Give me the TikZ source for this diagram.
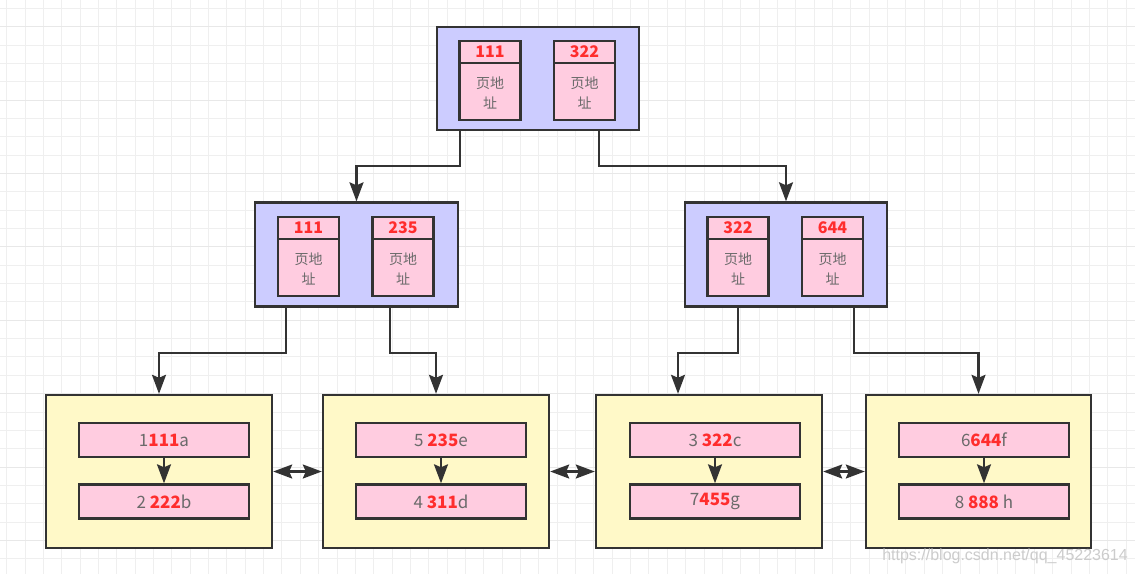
\documentclass[tikz,border=0pt]{standalone}
\usepackage{fontspec}
\setmainfont{Noto Sans CJK SC}
\newfontfamily\wmfont{Liberation Sans}
\usetikzlibrary{arrows.meta,calc}
\definecolor{boxblue}{HTML}{CCCCFF}
\definecolor{cellpink}{HTML}{FFCCE0}
\definecolor{leafyellow}{HTML}{FFF9C8}
\definecolor{edgegray}{HTML}{333333}
\definecolor{numred}{HTML}{FF2D2D}
\definecolor{txtgray}{HTML}{6A6A6A}
\definecolor{gridc}{HTML}{EFEFEF}
\definecolor{gridmaj}{HTML}{E8E8E8}
\newcommand\leaftxt[3]{#1\textbf{\textcolor{numred}{#2}}#3}
\newcommand\pcell[4]{%
  \node[cellbox] (#1) at (#2,#3+39.5) {};
  \node[headbox,anchor=north] (#1h) at (#1.north) {#4};
  \node[bodytxt] (#1t) at (#2,#3+52) {页地\\址};
}
\tikzset{
  outerbox/.style={draw=edgegray,fill=boxblue,line width=2.4pt,inner sep=0pt,minimum width=203pt,minimum height=104pt},
  cellbox/.style={draw=edgegray,fill=cellpink,line width=2.4pt,inner sep=0pt,minimum width=61pt,minimum height=79pt},
  headbox/.style={draw=edgegray,line width=2.4pt,inner sep=0pt,minimum width=61pt,minimum height=22pt,font=\fontsize{16}{16}\selectfont\bfseries,text=numred},
  bodytxt/.style={font=\fontsize{14}{20}\selectfont,text=txtgray,align=center,inner sep=0pt},
  leafbox/.style={draw=edgegray,fill=leafyellow,line width=2.4pt,inner sep=0pt,minimum width=226pt,minimum height=153pt},
  rowbox/.style={draw=edgegray,fill=cellpink,line width=2.4pt,inner sep=0pt,minimum width=170pt,minimum height=34pt,font=\fontsize{17}{17}\selectfont,text=txtgray},
  tipA/.tip={Stealth[length=19pt,width=14pt,inset=3pt]},
  conn/.style={draw=edgegray,line width=2.2pt,-tipA},
  dconn/.style={draw=edgegray,line width=2.2pt,tipA-tipA},
  gridline/.style={draw=gridc,line width=1pt},
  gridmajor/.style={draw=gridmaj,line width=1pt}
}
\begin{document}
\begin{tikzpicture}[x=1pt,y=-1pt]
\useasboundingbox (0,0) rectangle (1135,574);
\fill[white] (0,0) rectangle (1135,574);
% grid
\foreach \i in {0,...,61} {\draw[gridline] (6.7+\i*18.35,0) -- (6.7+\i*18.35,574);}
\foreach \i in {0,...,31} {\draw[gridline] (0,8.3+\i*18.35) -- (1135,8.3+\i*18.35);}
\foreach \i in {0,...,7} {\draw[gridmajor] (0,26.7+\i*73.4) -- (1135,26.7+\i*73.4);}
% root
\node[outerbox,minimum width=202pt,minimum height=103pt] (r) at (538,78.5) {};
\pcell{rA}{490}{41}{111}
\pcell{rB}{584.5}{41}{322}
% middle left
\node[outerbox] (mL) at (356.5,254.5) {};
\pcell{mLA}{308.5}{217}{111}
\pcell{mLB}{403}{217}{235}
% middle right
\node[outerbox,minimum width=202pt] (mR) at (786,254.5) {};
\pcell{mRA}{738}{217}{322}
\pcell{mRB}{832.5}{217}{644}
% leaves
\node[leafbox] (L1) at (159,471.5) {};
\node[leafbox] (L2) at (436,471.5) {};
\node[leafbox] (L3) at (709,471.5) {};
\node[leafbox,minimum width=225pt] (L4) at (978.5,471.5) {};
\node[rowbox] (L1a) at (164,440) {\leaftxt{1}{111}{a}};
\node[rowbox] (L1b) at (164,501.5) {\leaftxt{2 }{222}{b}};
\node[rowbox] (L2a) at (441,440) {\leaftxt{5 }{235}{e}};
\node[rowbox] (L2b) at (441,501.5) {\leaftxt{4 }{311}{d}};
\node[rowbox] (L3a) at (715,440) {\leaftxt{3 }{322}{c}};
\node[rowbox] (L3b) at (715,501.5) {\leaftxt{7}{455}{g}};
\node[rowbox] (L4a) at (984,440) {\leaftxt{6}{644}{f}};
\node[rowbox] (L4b) at (984,501.5) {\leaftxt{8 }{888}{ h}};
% connectors
\draw[conn] ([xshift=24pt]r.south west) -- ++(0,35) -| (mL.north);
\draw[conn] ([xshift=-41pt]r.south east) -- ++(0,35) -| (mR.north);
\draw[conn] ([xshift=32pt]mL.south west) -- ++(0,45) -| (L1.north);
\draw[conn] ([xshift=-69pt]mL.south east) -- ++(0,45) -| (L2.north);
\draw[conn] ([xshift=54pt]mR.south west) -- ++(0,45) -| ([xshift=-31pt]L3.north);
\draw[conn] ([xshift=-34pt]mR.south east) -- ++(0,45) -| (L4.north);
\draw[conn] (L1a) -- (L1b);
\draw[conn] (L2a) -- (L2b);
\draw[conn] (L3a) -- (L3b);
\draw[conn] (L4a) -- (L4b);
\draw[dconn] (L1.east) -- (L2.west);
\draw[dconn] (L2.east) -- (L3.west);
\draw[dconn] (L3.east) -- (L4.west);
% watermark
\node[anchor=east,inner sep=0pt,text=black!20,font=\wmfont\fontsize{16}{16}\selectfont] (wm) at (1128,556) {https://blog.csdn.net/qq\_45223614};
\end{tikzpicture}
\end{document}
